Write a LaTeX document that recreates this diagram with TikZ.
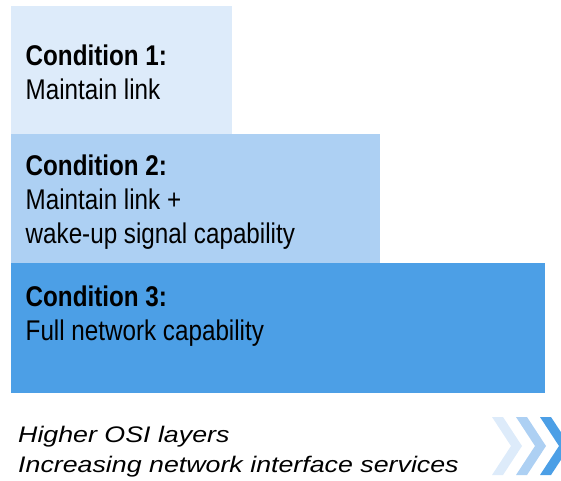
\documentclass[tikz,border=0pt]{standalone}
\usepackage{fontspec}
\setmainfont{Liberation Sans}
\newfontfamily\boxfont[FakeStretch=0.85]{Liberation Sans}
\newfontfamily\notefont[FakeStretch=1.19]{Liberation Sans}
\definecolor{condone}{RGB}{221,235,250}
\definecolor{condtwo}{RGB}{173,208,243}
\definecolor{condthree}{RGB}{76,159,230}

\begin{document}
\begin{tikzpicture}[x=1pt,y=1pt,every node/.append style={anchor=base west,
                    inner sep=0pt},
                    cond/.style={font=\boxfont\fontsize{28.5}{34}\selectfont},
                    note/.style={font=\notefont\itshape\fontsize{22.5}{30}\selectfont}]
    \useasboundingbox (0,0) rectangle (561,480);
    \clip (0,0) rectangle (561,480);
    \begin{scope}
      \fill[condone]   (11,346) rectangle (232,474);
      \fill[condtwo]   (11,217) rectangle (380,346);
      \fill[condthree] (11,87)  rectangle (545,217);
    \end{scope}
    \node[cond] (head1) at (25.5,414) {\bfseries Condition 1:};
    \node[cond] (text1) at (25.5,380) {Maintain link};
    \node[cond] (head2) at (25.5,305) {\bfseries Condition 2:};
    \node[cond] (text2) at (25.5,271) {Maintain link +};
    \node[cond] (more2) at (25.5,237) {wake-up signal capability};
    \node[cond] (head3) at (25.5,174) {\bfseries Condition 3:};
    \node[cond] (text3) at (25.5,140) {Full network capability};
    \node[note] (osi)   at (18,38)    {Higher OSI layers};
    \node[note] (serv)  at (18,8)     {Increasing network interface services};
    % chevrons
    \foreach \x/\c in {492/condone,516/condtwo,540/condthree}
      \fill[\c] (\x,63) -- ++(11,0) -- ++(19,-29) -- ++(-19,-29) -- ++(-11,0)
                -- ++(19,29) -- cycle;
\end{tikzpicture}
\end{document}
